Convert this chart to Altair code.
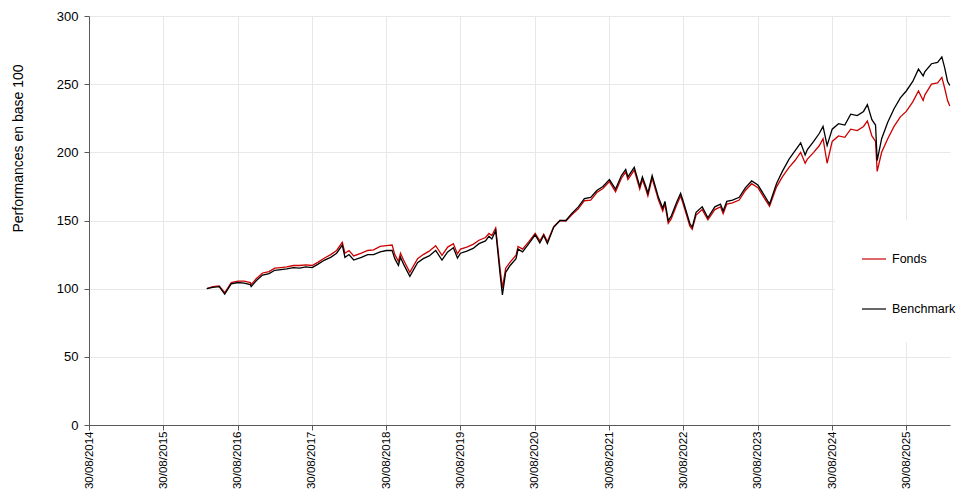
import altair as alt
import pandas as pd

dates = [
    "2016-03-31", "2016-04-29", "2016-05-31", "2016-06-27", "2016-07-29", "2016-08-31",
    "2016-09-30", "2016-10-31", "2016-11-04", "2016-11-30", "2016-12-30", "2017-01-31",
    "2017-02-28", "2017-03-31", "2017-04-28", "2017-05-31", "2017-06-30", "2017-07-31",
    "2017-08-31", "2017-09-29", "2017-10-31", "2017-11-30", "2017-12-29", "2018-01-26",
    "2018-02-08", "2018-02-28", "2018-03-23", "2018-04-30", "2018-05-31", "2018-06-29",
    "2018-07-31", "2018-08-31", "2018-09-28", "2018-10-11", "2018-10-29", "2018-11-08",
    "2018-11-23", "2018-12-24", "2019-01-31", "2019-02-28", "2019-03-29", "2019-04-30",
    "2019-05-31", "2019-06-28", "2019-07-26", "2019-08-15", "2019-08-30", "2019-09-30",
    "2019-10-31", "2019-11-29", "2019-12-31", "2020-01-17", "2020-01-31", "2020-02-19",
    "2020-03-12", "2020-03-23", "2020-04-08", "2020-04-30", "2020-05-29", "2020-06-08",
    "2020-06-30", "2020-07-31", "2020-08-31", "2020-09-23", "2020-10-12", "2020-10-30",
    "2020-11-30", "2020-12-31", "2021-01-29", "2021-02-26", "2021-03-31", "2021-04-30",
    "2021-05-31", "2021-06-30", "2021-07-30", "2021-08-31", "2021-09-30", "2021-10-29",
    "2021-11-19", "2021-11-30", "2021-12-31", "2022-01-27", "2022-02-09", "2022-02-28",
    "2022-03-08", "2022-03-29", "2022-04-29", "2022-05-20", "2022-05-31", "2022-06-16",
    "2022-06-30", "2022-07-29", "2022-08-16", "2022-08-31", "2022-09-30", "2022-10-12",
    "2022-10-31", "2022-11-30", "2022-12-28", "2023-01-31", "2023-02-28", "2023-03-13",
    "2023-03-31", "2023-04-28", "2023-05-31", "2023-06-30", "2023-07-31", "2023-08-31",
    "2023-09-29", "2023-10-27", "2023-11-30", "2023-12-29", "2024-01-31", "2024-02-29",
    "2024-03-28", "2024-04-19", "2024-04-30", "2024-05-31", "2024-06-28", "2024-07-16",
    "2024-08-05", "2024-08-30", "2024-09-30", "2024-10-31", "2024-11-29", "2024-12-31",
    "2025-01-31", "2025-02-19", "2025-03-13", "2025-03-31", "2025-04-08", "2025-04-30",
    "2025-05-30", "2025-06-30", "2025-07-31", "2025-08-29", "2025-09-30", "2025-10-28",
    "2025-11-20", "2025-11-28", "2025-12-31", "2026-01-30", "2026-02-20", "2026-03-06",
    "2026-03-20", "2026-03-31",
]

benchmark = [
    100, 101, 101.5, 96, 103.5, 104.5,
    104, 103, 101.5, 106, 110, 111,
    113.5, 114, 114.5, 115.5, 115, 116,
    115.5, 118, 121, 123, 126, 132,
    123, 125, 121, 123, 125, 125,
    127, 128, 128, 122, 117, 123,
    118, 109, 119, 122, 124, 128,
    121, 127, 130, 122.5, 126, 127.5,
    129.5, 133, 135, 138.5, 136.5, 142.5,
    110, 95.5, 112, 117, 122, 129,
    127, 133, 139.5, 133.5, 139, 133,
    145, 150, 150, 155, 160, 166,
    167, 172, 175, 180, 173, 183,
    187.5, 182, 189, 175, 182, 174,
    170, 183, 167, 159, 164, 150,
    153, 164, 170, 163, 148, 145,
    156, 160, 152, 160, 162, 157,
    164, 165, 167, 174, 179, 176,
    169, 162, 177, 186, 195, 201,
    207, 198, 202, 208, 214, 219,
    205, 217, 221, 220, 228, 227,
    230, 235, 224, 220, 194, 210,
    222, 232, 240, 245, 252, 261,
    256, 259, 265, 266, 270, 262,
    252, 249,
]

fonds = [
    100, 101.5, 102, 97, 104.5, 105.5,
    105.5, 104.5, 103, 107.5, 111.5, 112.5,
    115, 115.5, 116, 117, 117, 117.5,
    117, 119.5, 122.5, 125, 128, 134,
    126, 128, 124, 126, 128, 128.5,
    131, 131.5, 132, 125, 120, 126,
    121, 112, 122, 125, 127.5, 131.5,
    124.5, 130.5, 133, 125.5, 129, 130.5,
    132.5, 135.5, 137.5, 140.5, 139, 144.5,
    114, 100.5, 115, 119.5, 124.5, 131,
    129, 134.5, 140.5, 135, 140, 134.5,
    145.5, 150, 149.5, 154, 158.5, 164.5,
    165, 170.5, 173.5, 178.5, 171, 181,
    185.5, 180, 187, 173, 180, 172,
    168, 181, 165, 157, 162, 148,
    151, 162, 168, 161, 146, 143.5,
    154, 158, 150.5, 158, 160, 155,
    162, 163, 165, 172, 177, 174,
    167, 160.5, 174.5, 182, 189, 194,
    200, 192, 195, 200, 205, 210,
    192, 208, 212, 211, 217, 216,
    219, 223, 212, 208, 186, 200,
    210, 219, 226, 230, 237, 245,
    238, 242, 250, 251, 255, 247,
    238, 234,
]

series_names = ["Fonds", "Benchmark"]
series_colors = ["#cc0000", "#000000"]
y_ticks = [0, 50, 100, 150, 200, 250, 300]
tick_years = list(range(2014, 2026))

n = len(dates)
df = pd.DataFrame({
    "date": dates * 2,
    "value": fonds + benchmark,
    "serie": ["Fonds"] * n + ["Benchmark"] * n,
})

x_ticks = [alt.DateTime(year=y, month=8, date=30, utc=True) for y in tick_years]
x_domain = [alt.DateTime(year=2014, month=8, date=30, utc=True),
            alt.DateTime(year=2026, month=4, date=1, utc=True)]

FONT = "Liberation Sans"

base = alt.Chart(df).encode(
    x=alt.X("date:T",
            scale=alt.Scale(type="utc", domain=x_domain),
            axis=alt.Axis(values=x_ticks,
                          labelExpr="utcFormat(datum.value, '%d/%m/%Y')",
                          labelAngle=270, labelPadding=1, labelFontSize=11.5,
                          title=None, grid=True)),
    y=alt.Y("value:Q",
            scale=alt.Scale(domain=[0, 300], nice=False),
            axis=alt.Axis(values=y_ticks, title="Performances en base 100",
                          titleFontWeight="normal", titleFontSize=14, titleFont=FONT,
                          titleColor="#000000", titlePadding=31, titleY=132,
                          labelPadding=6, grid=True)),
    color=alt.Color("serie:N",
                    scale=alt.Scale(domain=series_names, range=series_colors),
                    legend=alt.Legend(title=None, orient="none", legendX=746, legendY=204,
                                      symbolType="stroke", symbolSize=576,
                                      symbolStrokeWidth=1.2, labelFontSize=12.5,
                                      labelFont=FONT, labelColor="#000000",
                                      rowPadding=30, padding=26, labelOffset=5,
                                      fillColor="white")),
)

fonds_line = base.transform_filter("datum.serie == 'Fonds'").mark_line(strokeWidth=1.3)
bench_line = base.transform_filter("datum.serie == 'Benchmark'").mark_line(strokeWidth=1.3)

chart = alt.layer(fonds_line, bench_line).properties(
    width=861, height=409,
    padding={"left": 81, "top": 8, "right": 6, "bottom": 64},
    autosize=alt.AutoSizeParams(type="none"),
).configure_view(stroke=None).configure_axis(
    domainColor="#595959", tickColor="#595959", tickSize=5,
    labelColor="#000000", labelFont=FONT, labelFontSize=13,
    gridColor="#e8e8e8", gridWidth=1,
)

chart.save("out.html", embed_options={"renderer": "svg", "actions": False})
